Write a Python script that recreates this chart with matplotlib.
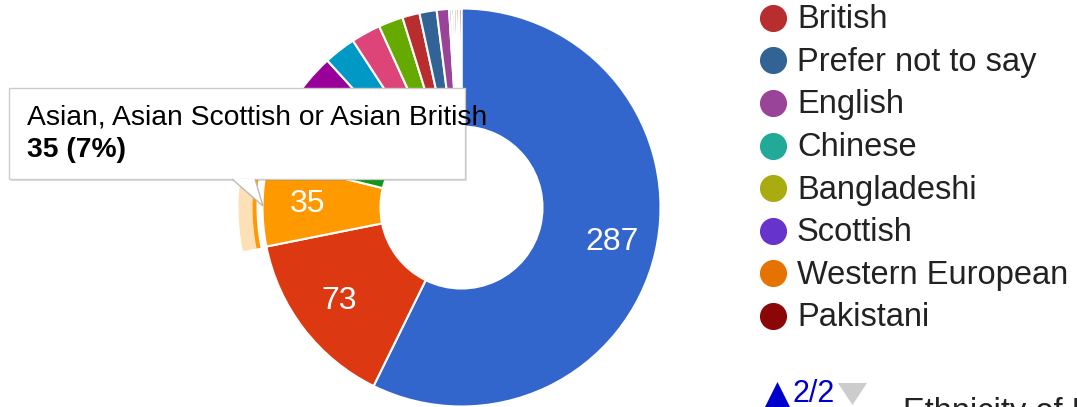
import matplotlib
matplotlib.use('Agg')
import matplotlib.pyplot as plt
from matplotlib.patches import Wedge, Rectangle, Polygon

# slice data (Google Charts default palette order)
categories = ['White Scottish', 'Other British', 'Asian, Asian Scottish or Asian British',
              'Mixed or multiple ethnic groups', 'African', 'Other White', 'Irish', 'Polish',
              'British', 'Prefer not to say', 'English', 'Chinese', 'Bangladeshi',
              'Scottish', 'Western European', 'Pakistani']
counts = [287, 73, 35, 24, 23, 13, 12, 10, 7, 7, 5, 1, 1, 1, 1, 1]
colors = ['#3366cc', '#dc3912', '#ff9900', '#109618', '#990099', '#0099c6', '#dd4477',
          '#66aa00', '#b82e2e', '#316395', '#994499', '#22aa99', '#aaaa11', '#6633cc',
          '#e67300', '#8b0707']
hovered = 2          # slice with tooltip
legend_start = 8     # legend is showing page 2/2
title = 'Ethnicity of Respondents'

W, H = 1077, 407
FONT = 'Liberation Sans'
total = sum(counts)

fig = plt.figure(figsize=(W / 100, H / 100), dpi=100)
ax = fig.add_axes([0, 0, 1, 1])

cx, cy, R, hole = 461.5, 207.5, 199, 81


def slice_label(p):
    v = round(p * total / 100)
    return str(v) if v >= 30 else ''


# y axis is flipped below, so counterclock=True + startangle=-90 -> clockwise from top
ax.pie(counts, colors=colors, startangle=-90, counterclock=True, radius=R, center=(cx, cy),
       wedgeprops=dict(width=R - hole, edgecolor='white', linewidth=1.5),
       autopct=slice_label, pctdistance=0.775,
       textprops=dict(color='white', fontsize=23, family=FONT))

# hover ring around the highlighted slice
a0 = -90 + 360 * sum(counts[:hovered]) / total
a1 = -90 + 360 * sum(counts[:hovered + 1]) / total
ax.add_patch(Wedge((cx, cy), R + 24, a0, a1, width=14, facecolor='#fde0b5', edgecolor='none'))
ax.add_patch(Wedge((cx, cy), R + 10, a0, a1, width=4, facecolor=colors[hovered], edgecolor='none'))

ax.set_xlim(0, W)
ax.set_ylim(H, 0)
ax.axis('off')

# tooltip
ax.add_patch(Rectangle((11, 90), 456, 91, facecolor='#000000', alpha=0.12, edgecolor='none', zorder=5))
ax.add_patch(Rectangle((9, 88), 456, 91, facecolor='white', edgecolor='#cccccc', linewidth=1, zorder=6))
ax.add_patch(Polygon([(232, 179), (263, 206), (255, 179)], closed=False, facecolor='white',
                     edgecolor='#bbbbbb', linewidth=1, zorder=6))
pct = round(100 * counts[hovered] / total)
ax.text(27, 124, categories[hovered], fontsize=20.3, family=FONT, color='#000000',
        va='baseline', zorder=7)
ax.text(27, 157, f'{counts[hovered]} ({pct}%)', fontsize=20.3, family=FONT, weight='bold',
        color='#000000', va='baseline', zorder=7)

# legend (page 2)
for i, (name, col) in enumerate(zip(categories[legend_start:], colors[legend_start:])):
    base = 28.3 + 42.6 * i
    ax.plot(773, base - 10.5, marker='o', markersize=18.5, color=col, linestyle='')
    ax.text(797, base, name, fontsize=23.5, family=FONT, color='#222222', va='baseline')

# pager
ax.add_patch(Polygon([(764, 409), (777.5, 382), (791, 409)], facecolor='#0000cc', edgecolor='none'))
ax.text(792, 402, '2/2', fontsize=22, family=FONT, color='#0000cc', va='baseline')
ax.add_patch(Polygon([(838, 383), (867, 383), (852.5, 405)], facecolor='#cccccc', edgecolor='none'))
ax.text(903, 421, title, fontsize=23.5, family=FONT, color='#222222', va='baseline')

fig.savefig('out.png', dpi=100)
